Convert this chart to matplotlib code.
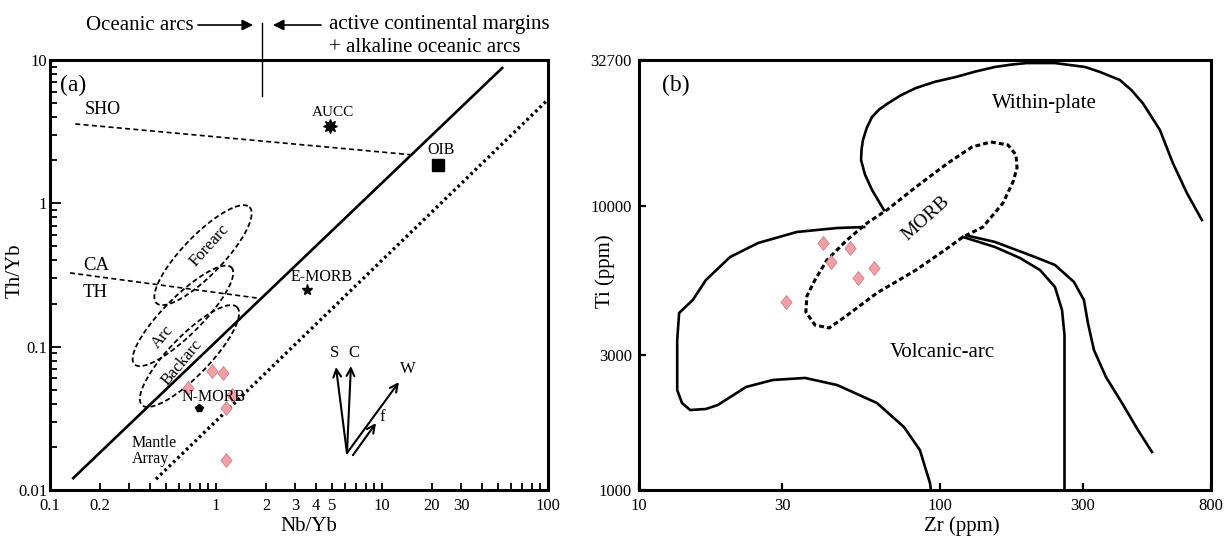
import matplotlib.pyplot as plt
import numpy as np
from matplotlib.path import Path
from matplotlib.ticker import FixedLocator, NullLocator, NullFormatter

plt.rcParams['font.family'] = ['Liberation Serif', 'DejaVu Serif']

# ---------------- (a) Th/Yb - Nb/Yb ----------------
sample_nb_yb = [0.946, 1.10, 0.678, 1.25, 1.15, 1.15]
sample_th_yb = [0.0676, 0.0655, 0.0514, 0.0459, 0.0373, 0.0162]

array_upper_x = [0.138, 53]
array_upper_y = [0.0121, 8.8]
array_lower_x = [0.435, 100]
array_lower_y = [0.0119, 5.3]
sho_x = [0.142, 15.8]
sho_y = [3.58, 2.17]
ca_th_x = [0.132, 1.79]
ca_th_y = [0.327, 0.218]
arc_split_x = [1.89, 1.89]
arc_split_y = [18.1, 5.6]

ref_names = ['AUCC', 'OIB', 'E-MORB', 'N-MORB']
ref_x = [4.86, 21.7, 3.53, 0.79]
ref_y = [3.46, 1.85, 0.248, 0.0373]

# ellipses: centre, conjugate half axes in log10 units
ell_names = ['Forearc', 'Arc', 'Backarc']
ell_cx = [0.835, 0.632, 0.692]
ell_cy = [0.435, 0.164, 0.086]
ell_u = [(0.280, 0.335), (0.292, 0.338), (0.286, 0.342)]
ell_v = [(0.087, -0.097), (0.081, -0.094), (0.087, -0.097)]

vec_names = ['S', 'C', 'W', 'f']
vec_x0 = [6.15, 6.15, 6.15, 6.68]
vec_y0 = [0.0181, 0.0181, 0.0181, 0.0175]
vec_x1 = [5.28, 6.5, 12.65, 9.2]
vec_y1 = [0.0721, 0.0733, 0.0566, 0.0293]

# ---------------- (b) Ti - Zr ----------------
sample_zr = [40.8, 50.3, 43.4, 60.5, 53.4, 30.8]
sample_ti = [7432, 7102, 6372, 6067, 5567, 4606]

wp_zr = [65.3, 59.6, 56.5, 54.8, 55.0, 55.6, 57.3, 59.6, 63.0, 67.3, 74.5, 83.5,
         96.5, 113.4, 132, 152.8, 173, 195.3, 242, 304.7, 341.7, 398, 435, 475,
         541, 597, 665, 746]
wp_ti = [9680, 11400, 12900, 14540, 15800, 17090, 18900, 20600, 21900, 23000,
         24600, 26060, 27400, 28500, 29800, 30900, 31500, 31900, 31900, 30900,
         29680, 27800, 25600, 23000, 18530, 14190, 11120, 8930]

va_zr = [56.1, 45.6, 33.5, 24.9, 20.1, 16.7, 15.1, 13.6, 13.4, 13.4, 13.4, 13.9,
         14.8, 16.7, 18.3, 22.7, 27.9, 35.7, 45.6, 61.9, 76.1, 86.0, 92.9, 93.6]
va_ti = [8440, 8370, 8106, 7413, 6617, 5492, 4670, 4203, 3376, 2713, 2250, 2025,
         1913, 1929, 1993, 2306, 2441, 2481, 2343, 2025, 1667, 1383, 1059, 1000]

inner_zr = [119.6, 152.9, 185.1, 215.8, 242.1, 255.5, 260.4, 260.4]
inner_ti = [7784, 7176, 6564, 5955, 5188, 4306, 3516, 1000]

outer_zr = [125.2, 152.9, 207.7, 242.1, 280, 302.2, 311.6, 326.3, 357.8, 404.5,
            457.1, 508.9]
outer_ti = [7848, 7475, 6617, 6202, 5404, 4670, 3874, 3112, 2500, 2025, 1627, 1361]

morb_zr = [148.3, 168.9, 179.6, 181, 175.5, 162.5, 139.4, 119.6, 104.2, 83.5, 61.9,
           48.4, 42.9, 38.5, 35.9, 36.2, 38.5, 42.2, 49.2, 57.4, 66.8, 83.5, 106.7,
           128.2, 148.3]
morb_ti = [16820, 16420, 15140, 13620, 12160, 10250, 8440, 7784, 7002, 5955, 4942,
           4068, 3721, 3813, 4236, 4824, 5492, 6457, 7596, 8718, 9690, 11680, 14190,
           16150, 16820]

pink = '#F0A0A6'
pink_edge = '#C9808A'
diamond = Path([(0, 1), (0.8, 0), (0, -1), (-0.8, 0), (0, 1)])

fig = plt.figure(figsize=(12.28, 5.4), dpi=100)
ax1 = fig.add_axes([50/1228, 50/540, 498/1228, 430/540])
ax2 = fig.add_axes([639/1228, 50/540, 572/1228, 430/540])

# ===== panel (a) =====
ax1.set_xscale('log')
ax1.set_yscale('log')
ax1.set_xlim(0.1, 100)
ax1.set_ylim(0.01, 10)

ax1.plot(array_upper_x, array_upper_y, color='k', lw=1.9)
ax1.plot(array_lower_x, array_lower_y, color='k', lw=2.4, ls=(0, (0.8, 1.0)))
ax1.plot(sho_x, sho_y, color='k', lw=1.2, ls=(0, (3, 2)))
ax1.plot(ca_th_x, ca_th_y, color='k', lw=1.2, ls=(0, (3, 2)))
ax1.plot(arc_split_x, arc_split_y, color='k', lw=1.0, clip_on=False)

t = np.linspace(0, 2*np.pi, 240)
for i in range(len(ell_names)):
    lx = np.log10(ell_cx[i]) + ell_u[i][0]*np.cos(t) + ell_v[i][0]*np.sin(t)
    ly = np.log10(ell_cy[i]) + ell_u[i][1]*np.cos(t) + ell_v[i][1]*np.sin(t)
    ax1.plot(10**lx, 10**ly, color='k', lw=1.3, ls=(0, (2.8, 1.6)))

ax1.text(0.92, 0.512, 'Forearc', fontsize=12, rotation=48, ha='center', va='center')
ax1.text(0.48, 0.117, 'Arc', fontsize=12, rotation=50, ha='center', va='center')
ax1.text(0.624, 0.077, 'Backarc', fontsize=12, rotation=50, ha='center', va='center')

# reference compositions
ax1.plot(ref_x[0], ref_y[0], marker=(8, 1, 0), ms=10, color='k', ls='none')
ax1.plot(ref_x[1], ref_y[1], marker='s', ms=8.5, color='k', ls='none')
ax1.plot(ref_x[2], ref_y[2], marker='*', ms=8, color='k', ls='none')
ax1.plot(ref_x[3], ref_y[3], marker='p', ms=6, color='k', ls='none')
ax1.text(5.07, 4.33, 'AUCC', fontsize=11, ha='center', va='center')
ax1.text(22.6, 2.36, 'OIB', fontsize=11.5, ha='center', va='center')
ax1.text(4.35, 0.306, 'E-MORB', fontsize=11.5, ha='center', va='center')
ax1.text(0.973, 0.0444, 'N-MORB', fontsize=11.5, ha='center', va='center')

ax1.plot(sample_nb_yb, sample_th_yb, marker=diamond, ms=10, ls='none',
         markerfacecolor=pink, markeredgecolor=pink_edge, markeredgewidth=0.6)

ax1.text(0.312, 0.0187, 'Mantle\nArray', fontsize=11.5, ha='left', va='center',
         linespacing=1.05)
ax1.text(0.1626, 4.48, 'SHO', fontsize=13, ha='left', va='center')
ax1.text(0.158, 0.371, 'CA', fontsize=13.5, ha='left', va='center')
ax1.text(0.158, 0.240, 'TH', fontsize=13.5, ha='left', va='center')
ax1.text(0.02, 0.965, '(a)', transform=ax1.transAxes, fontsize=17, ha='left', va='top')

for i in range(len(vec_names)):
    ax1.annotate('', xy=(vec_x1[i], vec_y1[i]), xytext=(vec_x0[i], vec_y0[i]),
                 arrowprops=dict(arrowstyle='->', lw=1.5, color='k',
                                 shrinkA=0, shrinkB=0, mutation_scale=14))
ax1.text(5.2, 0.090, 'S', fontsize=12, ha='center', va='center')
ax1.text(6.78, 0.090, 'C', fontsize=12, ha='center', va='center')
ax1.text(14.4, 0.0698, 'W', fontsize=12, ha='center', va='center')
ax1.text(10.1, 0.0323, 'f', fontsize=12, ha='center', va='center')

ax1.set_xticks([0.1, 0.2, 1, 2, 3, 4, 5, 10, 20, 30, 100])
ax1.set_xticklabels(['0.1', '0.2', '1', '2', '3', '4', '5', '10', '20', '30', '100'])
xminor = [m*d for d in [0.1, 1, 10] for m in range(2, 10)]
ax1.xaxis.set_minor_locator(FixedLocator(xminor))
ax1.xaxis.set_minor_formatter(NullFormatter())
ax1.set_yticks([0.01, 0.1, 1, 10])
ax1.set_yticklabels(['0.01', '0.1', '1', '10'])
yminor = [m*d for d in [0.01, 0.1, 1] for m in range(2, 10)]
ax1.yaxis.set_minor_locator(FixedLocator(yminor))
ax1.yaxis.set_minor_formatter(NullFormatter())
ax1.tick_params(which='both', direction='in', labelsize=12, width=1.3,
                top=False, right=False)
ax1.tick_params(axis='x', which='both', length=5, pad=6)
ax1.tick_params(axis='y', which='major', length=8, pad=2)
ax1.tick_params(axis='y', which='minor', length=5)
ax1.set_xlabel('Nb/Yb', fontsize=15)
ax1.set_ylabel('Th/Yb', fontsize=15)
ax1.xaxis.set_label_coords(0.52, -0.063)
ax1.yaxis.set_label_coords(-0.05, 0.51)

# top annotation
fig.text(194/1228, 1-25/540, 'Oceanic arcs', fontsize=15, ha='right', va='center')
fig.text(329/1228, 1-25/540, 'active continental margins', fontsize=15,
         ha='left', va='center')
fig.text(329/1228, 1-47/540, '+ alkaline oceanic arcs', fontsize=15,
         ha='left', va='center')
ax1.annotate('', xy=(253/1228, 1-25/540), xytext=(198/1228, 1-25/540),
             xycoords='figure fraction', textcoords='figure fraction',
             arrowprops=dict(arrowstyle='-|>', lw=1.2, color='k',
                             shrinkA=0, shrinkB=0, mutation_scale=16))
ax1.annotate('', xy=(273/1228, 1-25/540), xytext=(321/1228, 1-25/540),
             xycoords='figure fraction', textcoords='figure fraction',
             arrowprops=dict(arrowstyle='-|>', lw=1.2, color='k',
                             shrinkA=0, shrinkB=0, mutation_scale=16))

# ===== panel (b) =====
ax2.set_xscale('log')
ax2.set_yscale('log')
ax2.set_xlim(10, 800)
ax2.set_ylim(1000, 32700)

ax2.plot(wp_zr, wp_ti, color='k', lw=1.9)
ax2.plot(va_zr, va_ti, color='k', lw=1.9)
ax2.plot(inner_zr, inner_ti, color='k', lw=1.9)
ax2.plot(outer_zr, outer_ti, color='k', lw=1.9)
ax2.plot(morb_zr, morb_ti, color='k', lw=2.2, ls=(0, (1.6, 1.0)))

ax2.plot(sample_zr, sample_ti, marker=diamond, ms=10, ls='none',
         markerfacecolor=pink, markeredgecolor=pink_edge, markeredgewidth=0.6)

ax2.text(224, 23070, 'Within-plate', fontsize=15, ha='center', va='center')
ax2.text(90.1, 9080, 'MORB', fontsize=14, rotation=42, ha='center', va='center')
ax2.text(101.9, 3038, 'Volcanic-arc', fontsize=15, ha='center', va='center')
ax2.text(0.04, 0.965, '(b)', transform=ax2.transAxes, fontsize=17, ha='left', va='top')

ax2.set_xticks([10, 30, 100, 300, 800])
ax2.set_xticklabels(['10', '30', '100', '300', '800'])
ax2.xaxis.set_minor_locator(NullLocator())
ax2.set_yticks([1000, 3000, 10000, 32700])
ax2.set_yticklabels(['1000', '3000', '10000', '32700'])
ax2.yaxis.set_minor_locator(NullLocator())
ax2.tick_params(which='both', direction='in', labelsize=12, width=1.6, length=5,
                top=False, right=False)
ax2.tick_params(axis='x', pad=6)
ax2.tick_params(axis='y', pad=5)
ax2.set_xlabel('Zr (ppm)', fontsize=15)
ax2.set_ylabel('Ti (ppm)', fontsize=15)
ax2.xaxis.set_label_coords(0.565, -0.062)
ax2.yaxis.set_label_coords(-0.042, 0.51)

for ax in (ax1, ax2):
    for s in ax.spines.values():
        s.set_linewidth(2.2)

plt.savefig('out.png', dpi=100)
